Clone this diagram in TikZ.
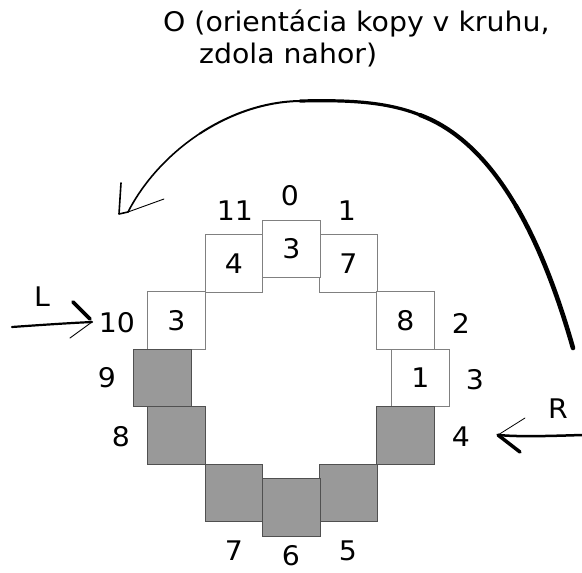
\documentclass[tikz,border=0pt]{standalone}
\usepackage{fontspec}
\setmainfont[FakeStretch=1.05]{DejaVu Sans}
\newcommand\dfont{\fontsize{27}{32}\selectfont}
\definecolor{boxline}{HTML}{808080}
\definecolor{boxfill}{HTML}{999999}
\definecolor{boxdark}{HTML}{505050}
\begin{document}
\begin{tikzpicture}[x=1pt,y=-1pt,
  lbl/.style={font=\dfont, inner sep=0pt},
  whitebox/.style={draw=boxline, fill=white, minimum size=57.5pt, inner sep=0pt, line width=0.9pt, font=\dfont},
  graybox/.style={draw=boxdark, fill=boxfill, minimum size=57.5pt, inner sep=0pt, line width=0.9pt},
  stroke/.style={line cap=round, line join=round}]
\useasboundingbox (0,0) rectangle (582,573);
% title
\node[lbl, anchor=base west] (t1) at (163,31) {O (orientácia kopy v kruhu,};
\node[lbl, anchor=base west] (t2) at (199,63) {zdola nahor)};
% boxes
\node[whitebox] (s11) at (234,263.5) {4};
\node[whitebox] (s1) at (348.5,263.5) {7};
\node[whitebox] (s0) at (291.5,249) {3};
\node[whitebox] (s10) at (176.5,320.5) {3};
\node[whitebox] (s2) at (405.5,320.5) {8};
\node[whitebox] (s3) at (420.5,378) {1};
\node[graybox] (s9) at (162.5,378) {};
\node[graybox] (s8) at (176.5,435.5) {};
\node[graybox] (s4) at (405.5,435.5) {};
\node[graybox] (s7) at (234,493) {};
\node[graybox] (s5) at (348.5,493) {};
\node[graybox] (s6) at (291.5,507.5) {};
% position labels
\node[lbl] (p0) at (290,196) {0};
\node[lbl] (p1) at (347,211) {1};
\node[lbl] (p2) at (461,323) {2};
\node[lbl] (p3) at (475,380) {3};
\node[lbl] (p4) at (461,437) {4};
\node[lbl] (p5) at (348,551) {5};
\node[lbl] (p6) at (291,556) {6};
\node[lbl] (p7) at (234,551) {7};
\node[lbl] (p8) at (121,437) {8};
\node[lbl] (p9) at (107,378) {9};
\node[lbl] (p10) at (117,323) {10};
\node[lbl] (p11) at (235,211) {11};
\node[lbl] (lL) at (42,297) {L};
\node[lbl] (lR) at (558,409) {R};
% L arrow
\coordinate (la) at (12,327);
\coordinate (lt) at (92,322);
\coordinate (lb1) at (73,302);
\coordinate (lb2) at (70,338);
\draw[stroke, line width=2.2pt] (la) .. controls (40,325) and (70,323) .. (lt);
\draw[stroke, line width=3.8pt] (lb1) -- (90,319);
\draw[stroke, line width=0.9pt] (lt) -- (lb2);
% R arrow
\coordinate (ra) at (582,435);
\coordinate (rt) at (498,435);
\coordinate (rb1) at (525,418);
\coordinate (rb2) at (520,452);
\draw[stroke, line width=2.5pt] (ra) .. controls (550,436) and (520,437) .. (rt);
\draw[stroke, line width=0.8pt] (rt) -- (rb1);
\draw[stroke, line width=3.5pt] (rt) -- (rb2);
% big curved arrow (tapering stroke)
\coordinate (os) at (573,348);
\coordinate (ot) at (128,212);
\draw[stroke, line width=4.6pt] (os) .. controls (559,299) and (540.75,248.25) .. (516,206);
\draw[stroke, line width=4.2pt] (516,206) .. controls (491.25,163.75) and (460,130) .. (420,115);
\draw[stroke, line width=3.2pt] (420,115) .. controls (385,101) and (345,100) .. (300,101);
\draw[stroke, line width=2.0pt] (300,101) .. controls (265,101.5) and (230,113.75) .. (199.75,133.6);
\draw[stroke, line width=1.6pt] (199.75,133.6) .. controls (169.5,153.5) and (144,181) .. (ot);
\draw[stroke, line width=0.9pt] (ot) -- (164,199);
\draw[stroke, line width=1.6pt] (121,183) -- (119,214) -- (ot);
\end{tikzpicture}
\end{document}
